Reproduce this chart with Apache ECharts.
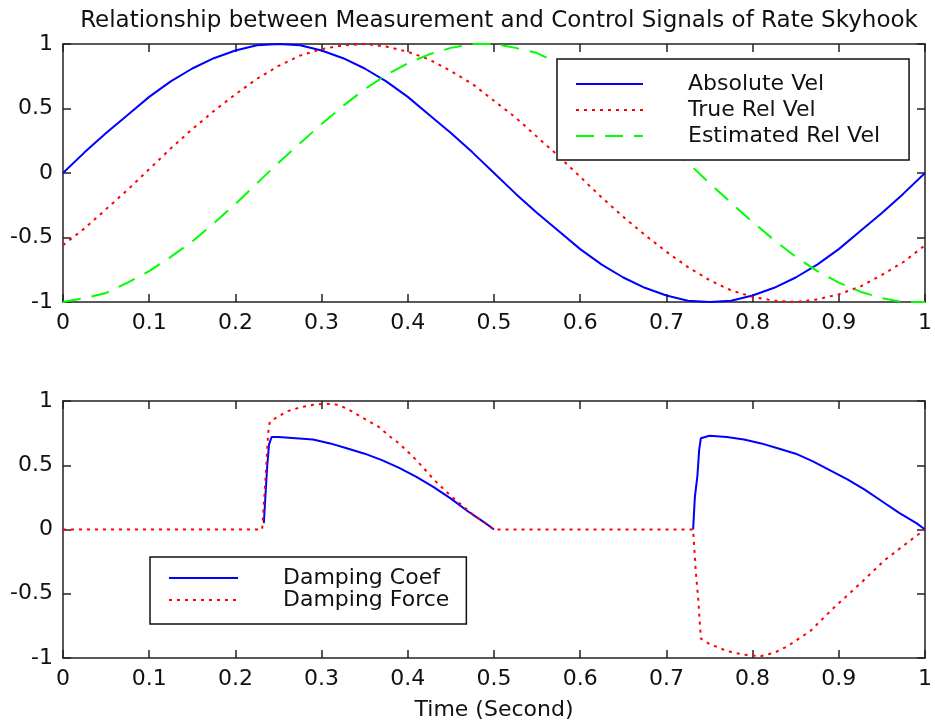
<!DOCTYPE html>
<html>
<head>
<meta charset="utf-8">
<script src="https://cdn.jsdelivr.net/npm/echarts@6/dist/echarts.min.js"></script>
<style>
html,body{margin:0;padding:0;background:#fff;}
#chart{width:935px;height:727px;}
</style>
</head>
<body>
<div id="chart"></div>
<script>
// ---- Data ----
const titleText = 'Relationship between Measurement and Control Signals of Rate Skyhook';
const xAxisName = 'Time (Second)';

// Top panel
const topTime = [0,0.025,0.05,0.075,0.1,0.125,0.15,0.175,0.2,0.225,0.25,0.275,0.3,0.325,0.35,0.375,0.4,0.425,0.45,0.475,0.5,0.525,0.55,0.575,0.6,0.625,0.65,0.675,0.7,0.725,0.75,0.775,0.8,0.825,0.85,0.875,0.9,0.925,0.95,0.975,1];
const absoluteVel = [0,0.16,0.31,0.45,0.59,0.71,0.81,0.89,0.95,0.99,1.0,0.99,0.95,0.89,0.81,0.71,0.59,0.45,0.31,0.16,0,-0.16,-0.31,-0.45,-0.59,-0.71,-0.81,-0.89,-0.95,-0.99,-1.0,-0.99,-0.95,-0.89,-0.81,-0.71,-0.59,-0.45,-0.31,-0.16,0];
const trueRelVel = [-0.56,-0.43,-0.28,-0.13,0.03,0.19,0.34,0.48,0.61,0.73,0.83,0.91,0.96,0.99,1.0,0.98,0.94,0.88,0.79,0.69,0.56,0.43,0.28,0.13,-0.03,-0.19,-0.34,-0.48,-0.61,-0.73,-0.83,-0.91,-0.96,-0.99,-1.0,-0.98,-0.94,-0.88,-0.79,-0.69,-0.56];
const estRelVel = [-1.0,-0.97,-0.93,-0.85,-0.76,-0.65,-0.53,-0.39,-0.24,-0.08,0.08,0.23,0.38,0.52,0.65,0.76,0.85,0.92,0.97,1.0,1.0,0.97,0.93,0.85,0.76,0.65,0.53,0.39,0.24,0.08,-0.08,-0.23,-0.38,-0.52,-0.65,-0.76,-0.85,-0.92,-0.97,-1.0,-1.0];

// Bottom panel
const coefTime   = [0.233,0.235,0.237,0.239,0.242,0.25,0.27,0.29,0.31,0.33,0.35,0.37,0.39,0.41,0.43,0.45,0.47,0.49,0.5,  0.5,0.731, 0.731,0.733,0.736,0.738,0.74,0.75,0.77,0.79,0.81,0.83,0.85,0.87,0.89,0.91,0.93,0.95,0.97,0.99,1.0];
const dampingCoef= [0.05,0.28,0.5,0.66,0.72,0.72,0.71,0.70,0.67,0.63,0.59,0.54,0.48,0.41,0.33,0.24,0.14,0.05,0.0,  null,null, 0.0,0.25,0.42,0.62,0.71,0.73,0.72,0.70,0.67,0.63,0.59,0.53,0.46,0.39,0.31,0.22,0.13,0.05,0.0];
const forceTime  = [0,0.231,0.235,0.238,0.24,0.25,0.26,0.275,0.29,0.305,0.32,0.335,0.35,0.366,0.38,0.39,0.41,0.43,0.45,0.475,0.5,0.731,0.734,0.737,0.74,0.75,0.77,0.79,0.81,0.825,0.84,0.867,0.894,0.925,0.953,0.983,1.0];
const dampingForce=[0,0,0.4,0.75,0.84,0.88,0.92,0.95,0.97,0.98,0.97,0.92,0.86,0.80,0.72,0.67,0.54,0.39,0.26,0.12,0,0,-0.32,-0.55,-0.85,-0.89,-0.945,-0.975,-0.985,-0.96,-0.91,-0.79,-0.61,-0.42,-0.24,-0.085,0];

const xTicks = [0,0.1,0.2,0.3,0.4,0.5,0.6,0.7,0.8,0.9,1];
const yTicks = [-1,-0.5,0,0.5,1];

// ---- Build ----
const FONT = 'DejaVu Sans';
const pair = (xs, ys) => xs.map((x, i) => [x, ys[i]]);

function xAx(gridIndex, pos, showLabels, name) {
  const a = {
    type: 'value', gridIndex, position: pos,
    min: xTicks[0], max: xTicks[xTicks.length - 1], interval: 0.1,
    axisLine: { show: true, onZero: false, lineStyle: { color: '#222', width: 1.5 } },
    axisTick: { show: true, inside: true, length: 8, lineStyle: { color: '#222', width: 1.5 } },
    axisLabel: { show: showLabels, margin: 10, color: '#111', fontSize: 22, fontFamily: FONT, lineHeight: 22 },
    splitLine: { show: false }
  };
  if (name) {
    a.name = name; a.nameLocation = 'middle'; a.nameGap = 41;
    a.nameTextStyle = { color: '#111', fontSize: 22, fontFamily: FONT, lineHeight: 22 };
  }
  return a;
}
function yAx(gridIndex, pos, showLabels) {
  return {
    type: 'value', gridIndex, position: pos,
    min: yTicks[0], max: yTicks[yTicks.length - 1], interval: 0.5,
    axisLine: { show: true, onZero: false, lineStyle: { color: '#222', width: 1.5 } },
    axisTick: { show: true, inside: true, length: 8, lineStyle: { color: '#222', width: 1.5 } },
    axisLabel: { show: showLabels, margin: 10, color: '#111', fontSize: 22, fontFamily: FONT },
    splitLine: { show: false }
  };
}

const BLUE = '#0000ff', RED = '#ff0000', GREEN = '#00ff00';

const option = {
  animation: false,
  backgroundColor: '#fff',
  title: {
    text: titleText, left: 494, textAlign: 'center', top: 5,
    textStyle: { fontSize: 23, fontWeight: 'normal', color: '#111', fontFamily: FONT, lineHeight: 23 }
  },
  grid: [
    { left: 63, right: 7, top: 44, height: 258 },
    { left: 63, right: 7, top: 401, height: 257 }
  ],
  xAxis: [
    xAx(0, 'bottom', true), xAx(0, 'top', false),
    xAx(1, 'bottom', true, xAxisName), xAx(1, 'top', false)
  ],
  yAxis: [
    yAx(0, 'left', true), yAx(0, 'right', false),
    yAx(1, 'left', true), yAx(1, 'right', false)
  ],
  legend: [
    {
      data: ['Absolute Vel', 'True Rel Vel', 'Estimated Rel Vel'],
      orient: 'vertical', left: 557, top: 59,
      padding: [12, 29, 11, 18], itemGap: 0, itemWidth: 67, itemHeight: 14,
      itemStyle: { opacity: 0 },
      backgroundColor: '#fff', borderColor: '#111', borderWidth: 1.5, borderRadius: 0,
      textStyle: { fontSize: 22, fontFamily: FONT, color: '#111', lineHeight: 26, padding: [0, 0, 0, 40] },
      selectedMode: false
    },
    {
      data: ['Damping Coef', 'Damping Force'],
      orient: 'vertical', left: 150, top: 557,
      padding: [10, 17, 13, 18], itemGap: 0, itemWidth: 69, itemHeight: 14,
      itemStyle: { opacity: 0 },
      backgroundColor: '#fff', borderColor: '#111', borderWidth: 1.5, borderRadius: 0,
      textStyle: { fontSize: 22, fontFamily: FONT, color: '#111', lineHeight: 22, padding: [0, 0, 0, 40] },
      selectedMode: false
    }
  ],
  series: [
    { name: 'Absolute Vel', type: 'line', xAxisIndex: 0, yAxisIndex: 0, symbol: 'none',
      data: pair(topTime, absoluteVel), color: BLUE, lineStyle: { color: BLUE, width: 2 } },
    { name: 'True Rel Vel', type: 'line', xAxisIndex: 0, yAxisIndex: 0, symbol: 'none',
      data: pair(topTime, trueRelVel), color: RED, lineStyle: { color: RED, width: 2, type: [3, 5] } },
    { name: 'Estimated Rel Vel', type: 'line', xAxisIndex: 0, yAxisIndex: 0, symbol: 'none',
      data: pair(topTime, estRelVel), color: GREEN, lineStyle: { color: GREEN, width: 2, type: [18, 11] } },
    { name: 'Damping Coef', type: 'line', xAxisIndex: 2, yAxisIndex: 2, symbol: 'none', connectNulls: false,
      data: pair(coefTime, dampingCoef), color: BLUE, lineStyle: { color: BLUE, width: 2 } },
    { name: 'Damping Force', type: 'line', xAxisIndex: 2, yAxisIndex: 2, symbol: 'none',
      data: pair(forceTime, dampingForce), color: RED, lineStyle: { color: RED, width: 2, type: [3, 5] } }
  ]
};

const chart = echarts.init(document.getElementById('chart'), null, { renderer: 'canvas' });
chart.setOption(option);
</script>
</body>
</html>
